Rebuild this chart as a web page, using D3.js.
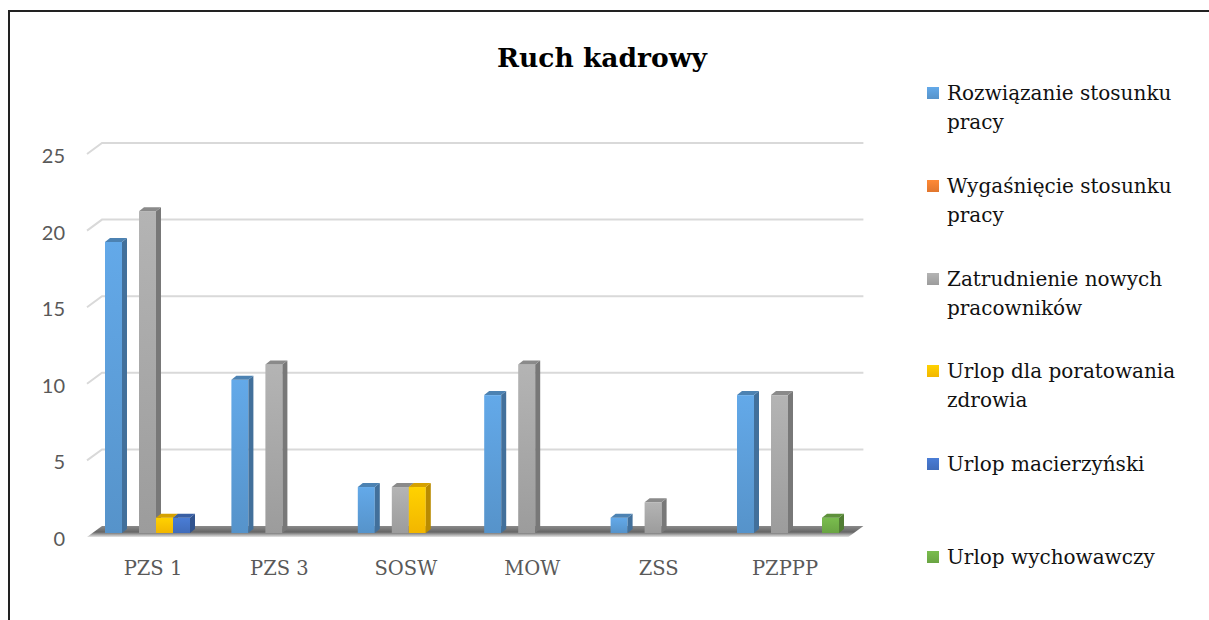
<html>
<head>
<meta charset="utf-8">
<script src="https://d3js.org/d3.v7.min.js"></script>
<style>
body {margin: 0; background: white;}
</style>
</head>
<body>
<svg id="chart" width="1209" height="620"></svg>
<script>
// data
var categories = ["PZS 1", "PZS 3", "SOSW", "MOW", "ZSS", "PZPPP"];
var seriesNames = ["Rozwiązanie stosunku pracy", "Wygaśnięcie stosunku pracy", "Zatrudnienie nowych pracowników",
                   "Urlop dla poratowania zdrowia", "Urlop macierzyński", "Urlop wychowawczy"];
var rozwiazanie  = [19, 10, 3, 9, 1, 9];
var wygasniecie  = [0, 0, 0, 0, 0, 0];
var zatrudnienie = [21, 11, 3, 11, 2, 9];
var urlopZdrowie = [1, 0, 3, 0, 0, 0];
var urlopMacierz = [1, 0, 0, 0, 0, 0];
var urlopWychow  = [0, 0, 0, 0, 0, 1];
var yTicks = [0, 5, 10, 15, 20, 25];
var legendLines = [["Rozwiązanie stosunku", "pracy"], ["Wygaśnięcie stosunku", "pracy"], ["Zatrudnienie nowych", "pracowników"],
                   ["Urlop dla poratowania", "zdrowia"], ["Urlop macierzyński"], ["Urlop wychowawczy"]];
var colors = ["#5b9bd5", "#ed7d31", "#a5a5a5", "#ffc000", "#4472c4", "#70ad47"];
var allSeries = [rozwiazanie, wygasniecie, zatrudnienie, urlopZdrowie, urlopMacierz, urlopWychow];

var svg = d3.select("#chart");
var defs = svg.append("defs");

// frame (right and bottom edges fall outside the window)
svg.append("rect").attr("x", 9).attr("y", 11).attr("width", 1300).attr("height", 700)
    .style("fill", "none").style("stroke", "#222").style("stroke-width", 2);

//scales
var yFront = d3.scaleLinear().domain([0, 25]).range([537, 154]);
var xCat = d3.scaleBand().domain(categories).range([93, 93 + 6 * 126.4]);
var xSer = d3.scaleBand().domain(seriesNames).range([12, 114]);
var wallDx = 15, wallDy = -11;
var barDx = 5, barDy = -4, barShift = -4;

// floor
var floorGrad = defs.append("linearGradient").attr("id", "floorGrad").attr("x1", 0).attr("y1", 0).attr("x2", 0).attr("y2", 1);
floorGrad.append("stop").attr("offset", "0%").attr("stop-color", "#8a8a8a");
floorGrad.append("stop").attr("offset", "55%").attr("stop-color", "#666666");
floorGrad.append("stop").attr("offset", "100%").attr("stop-color", "#e4e4e4");
var fx0 = 87, fx1 = 93 + 6 * 126.4 - 3;
svg.append("polygon")
    .attr("points", [[fx0, yFront(0)], [fx0 + wallDx, yFront(0) + wallDy], [fx1 + wallDx, yFront(0) + wallDy], [fx1, yFront(0)]].join(" "))
    .style("fill", "url(#floorGrad)");

// gridlines on back wall + left wall stubs
var grid = svg.append("g");
yTicks.filter(function(d) {return d > 0;}).forEach(function(t) {
    grid.append("polyline")
        .attr("points", [[fx0, yFront(t)], [fx0 + wallDx, yFront(t) + wallDy], [fx1 + wallDx, yFront(t) + wallDy]].join(" "))
        .style("fill", "none").style("stroke", "#d9d9d9").style("stroke-width", 2);
});

// y axis labels
svg.append("g").selectAll("text").data(yTicks).enter().append("text")
    .attr("x", 65).attr("y", function(d) {return yFront(d) + 1;})
    .attr("text-anchor", "end").attr("dominant-baseline", "central")
    .style("font-family", "Lato").style("font-size", "20px").style("fill", "#595959")
    .text(function(d) {return d;});

// x axis labels
svg.append("g").selectAll("text").data(categories).enter().append("text")
    .attr("x", function(d) {return xCat(d) + 60;}).attr("y", 575)
    .attr("text-anchor", "middle")
    .style("font-family", "DejaVu Serif").style("font-size", "19.5px").style("fill", "#595959")
    .text(function(d) {return d;});

// gradients for bar fronts
colors.forEach(function(c, i) {
    var g = defs.append("linearGradient").attr("id", "barGrad" + i).attr("x1", 0).attr("y1", 0).attr("x2", 0).attr("y2", 1);
    g.append("stop").attr("offset", "0%").attr("stop-color", d3.color(c).brighter(0.25));
    g.append("stop").attr("offset", "100%").attr("stop-color", d3.color(c).darker(0.15));
});

// bars
var bars = svg.append("g");
categories.forEach(function(cat, ci) {
    seriesNames.forEach(function(s, si) {
        var v = allSeries[si][ci];
        if (v <= 0) return;
        var x = xCat(cat) + xSer(s);
        var w = xSer.bandwidth();
        var yTop = yFront(v) + barShift;
        var yBot = yFront(0) + barShift;
        var base = d3.color(colors[si]);
        bars.append("rect").attr("x", x).attr("y", yTop).attr("width", w).attr("height", yBot - yTop)
            .style("fill", "url(#barGrad" + si + ")");
        bars.append("polygon")
            .attr("points", [[x + w, yTop], [x + w + barDx, yTop + barDy], [x + w + barDx, yBot + barDy], [x + w, yBot]].join(" "))
            .style("fill", base.darker(0.9));
        bars.append("polygon")
            .attr("points", [[x, yTop], [x + barDx, yTop + barDy], [x + w + barDx, yTop + barDy], [x + w, yTop]].join(" "))
            .style("fill", base.darker(0.5));
    });
});

// title
svg.append("text").attr("x", 602).attr("y", 67).attr("text-anchor", "middle")
    .style("font-family", "DejaVu Serif").style("font-weight", "bold").style("font-size", "26.5px").style("fill", "#000")
    .text("Ruch kadrowy");

// legend
var legend = svg.append("g");
var legendY = [93, 186, 279, 371, 464, 557];
seriesNames.forEach(function(s, i) {
    legend.append("rect").attr("x", 927).attr("y", legendY[i] - 6).attr("width", 12).attr("height", 12)
        .style("fill", "url(#barGrad" + i + ")");
    legendLines[i].forEach(function(line, j) {
        legend.append("text").attr("x", 947).attr("y", legendY[i] + 7 + j * 29)
            .style("font-family", "DejaVu Serif").style("font-size", "20px").style("fill", "#111")
            .text(line);
    });
});
</script>
</body>
</html>
